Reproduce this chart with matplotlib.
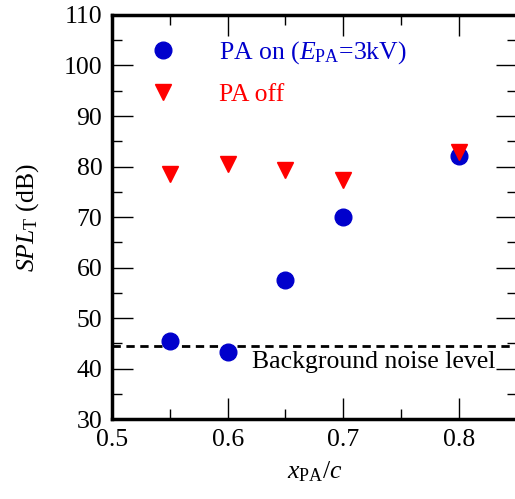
import matplotlib
matplotlib.use("Agg")
import matplotlib.pyplot as plt
from matplotlib.ticker import MultipleLocator

plt.rcParams['font.family'] = 'Liberation Serif'
plt.rcParams['mathtext.fontset'] = 'custom'
plt.rcParams['mathtext.rm'] = 'Liberation Serif'
plt.rcParams['mathtext.it'] = 'Liberation Serif:italic'

x_on = [0.55, 0.60, 0.65, 0.70, 0.80]
spl_on = [45.4, 43.3, 57.5, 70.0, 82.0]
x_off = [0.55, 0.60, 0.65, 0.70, 0.80]
spl_off = [78.5, 80.6, 79.3, 77.4, 82.8]
background = 44.5

FS = 18.5
fig = plt.figure(figsize=(5.15, 4.99), dpi=100)
ax = fig.add_axes([0.2175, 0.160, 0.786, 0.810])

ax.plot(x_on, spl_on, 'o', color='#0000CC', markersize=12, label=r'PA on ($E_\mathrm{PA}$=3kV)', zorder=3)
ax.plot(x_off, spl_off, 'v', color='#FF0000', markersize=11, label='PA off', zorder=3)
ax.axhline(background, color='black', linestyle=(0, (3, 2)), linewidth=2, zorder=2)
ax.text(0.8316, 41.3, 'Background noise level', fontsize=FS, ha='right', va='center')

ax.set_xlim(0.5, 0.85)
ax.set_ylim(30, 110)
ax.xaxis.set_major_locator(MultipleLocator(0.1))
ax.xaxis.set_minor_locator(MultipleLocator(0.05))
ax.yaxis.set_major_locator(MultipleLocator(10))
ax.yaxis.set_minor_locator(MultipleLocator(5))
ax.tick_params(which='both', direction='in', top=True, right=True, labelsize=FS, width=1, pad=7)
ax.tick_params(which='major', length=15)
ax.tick_params(which='minor', length=7)
for s in ax.spines.values():
    s.set_linewidth(2.5)

ax.set_xlabel(r'$x_\mathrm{PA}/c$', fontsize=FS, labelpad=6)
ax.set_ylabel(r'$SPL_\mathrm{T}$ (dB)', fontsize=FS, labelpad=16)

leg = ax.legend(loc='upper left', bbox_to_anchor=(0.005, 0.997), frameon=False, fontsize=FS,
                handlelength=2.0, handletextpad=1.17, labelspacing=0.66, labelcolor='linecolor')

fig.savefig('out.png', dpi=100)
